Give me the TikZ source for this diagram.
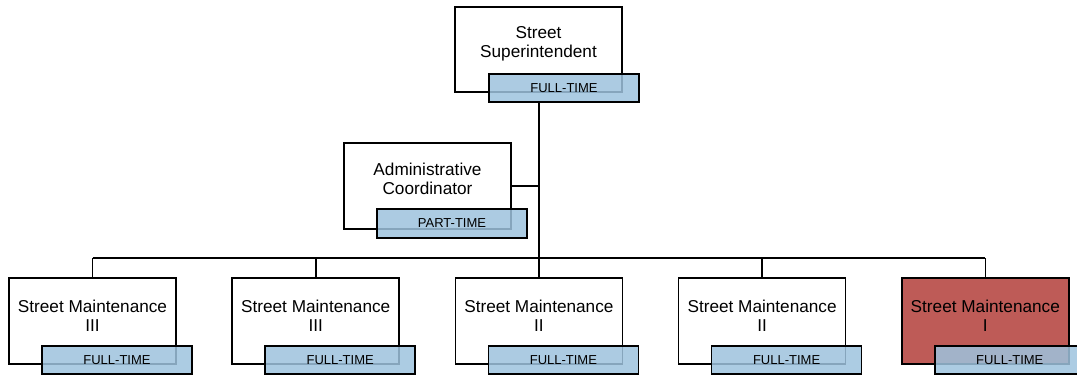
\documentclass[tikz,border=0pt]{standalone}
\usepackage{fontspec}
\setmainfont{Liberation Sans}
\definecolor{badgeblue}{HTML}{9EC3DE}
\definecolor{boxred}{HTML}{BE5B57}
\begin{document}
\begin{tikzpicture}[x=1pt,y=-1pt,
  posbox/.style={draw=black,line width=1.6pt,fill=white},
  badge/.style={draw=black,line width=1.6pt,fill=badgeblue,fill opacity=0.85,text opacity=1},
  btxt/.style={font=\fontsize{13}{15}\selectfont},
  ttl/.style={font=\fontsize{17.2}{19}\selectfont,align=center},
  conn/.style={draw=black,line width=1.6pt}]
\useasboundingbox (0,0) rectangle (1077,377);
% top
\draw[posbox] (455,7) rectangle (622,92);
\node[ttl] (tt) at (538.5,44) {Street\\Superintendent};
\draw[badge] (489,74) rectangle (639,102);
\node[btxt] (tb) at (564,88) {FULL-TIME};
\coordinate (tbot) at (539,102);
% admin
\draw[posbox] (344,143) rectangle (511,229);
\node[ttl] (at) at (427.5,179) {Administrative\\Coordinator};
\draw[badge] (377,209) rectangle (527,238);
\node[btxt] (ab) at (452,223.5) {PART-TIME};
\coordinate (aright) at (511,186);
\coordinate (aj) at (539,186);
\coordinate (hj) at (539,258);
\draw[conn] (tbot) -- (hj);
\draw[conn] (aright) -- (aj);
% bottom row
\foreach \i/\lab/\col in {0/III/white,1/III/white,2/II/white,3/II/white,4/I/boxred}{
  \pgfmathsetmacro{\L}{9+223.2*\i}
  \pgfmathsetmacro{\C}{\L+83.5}
  \draw[posbox,fill=\col] (\L,278) rectangle (\L+167,364);
  \node[ttl] (b\i) at (\C,316) {Street Maintenance\\\lab};
  \draw[badge] (\L+33,346) rectangle (\L+183,374);
  \node[btxt] (bb\i) at (\L+108,360) {FULL-TIME};
  \coordinate (c\i) at (\C,278);
  \coordinate (h\i) at (\C,258);
  \draw[conn] (h\i) -- (c\i);
}
\draw[conn] (h0) -- (h4);
\end{tikzpicture}
\end{document}
